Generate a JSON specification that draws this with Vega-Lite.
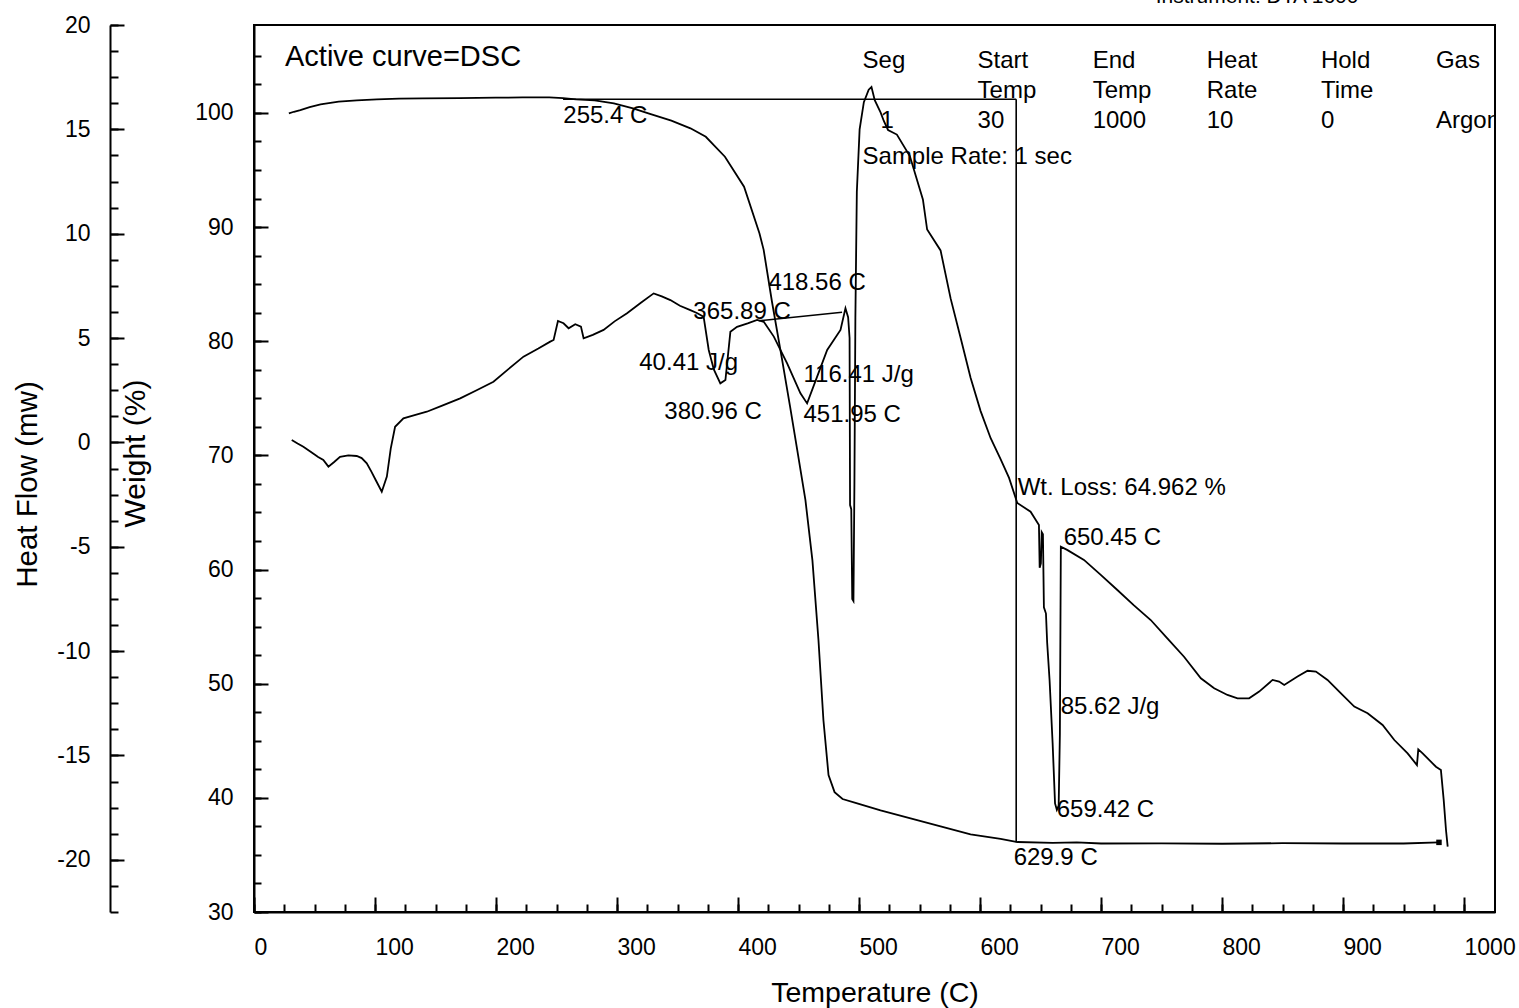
{
  "$schema": "https://vega.github.io/schema/vega-lite/v6.json",
  "width": 1241,
  "height": 887,
  "autosize": {"type": "none"},
  "padding": {"left": 254, "top": 25, "right": 24, "bottom": 96},
  "background": "white",
  "config": {
    "font": "Liberation Sans",
    "view": {"stroke": "black", "strokeWidth": 2},
    "axis": {
      "grid": false,
      "labelFont": "Liberation Sans",
      "titleFont": "Liberation Sans",
      "labelColor": "black",
      "titleColor": "black",
      "tickColor": "black",
      "domainColor": "black",
      "domainWidth": 2,
      "tickWidth": 2,
      "titleFontWeight": "normal",
      "labelFlush": false,
      "labelOverlap": false,
      "labelBound": false
    }
  },
  "resolve": {"scale": {"y": "independent"}, "axis": {"x": "independent", "y": "independent"}},
  "datasets": {
    "tga": [
      {"T": 28.8, "w": 99.95}, {"T": 33, "w": 100.1}, {"T": 38.3, "w": 100.25}, {"T": 46, "w": 100.5},
      {"T": 55, "w": 100.75}, {"T": 70, "w": 100.98}, {"T": 85, "w": 101.1}, {"T": 101.6, "w": 101.19},
      {"T": 120, "w": 101.25}, {"T": 139.6, "w": 101.28}, {"T": 170, "w": 101.3}, {"T": 199.8, "w": 101.33},
      {"T": 222, "w": 101.36}, {"T": 244, "w": 101.36}, {"T": 255.4, "w": 101.3}, {"T": 266.2, "w": 101.19},
      {"T": 281.5, "w": 101.1}, {"T": 297.4, "w": 100.83}, {"T": 313.2, "w": 100.4}, {"T": 325.9, "w": 99.96},
      {"T": 344.9, "w": 99.32}, {"T": 360.7, "w": 98.65}, {"T": 373.4, "w": 97.91}, {"T": 389.2, "w": 96.16},
      {"T": 405, "w": 93.54}, {"T": 417.7, "w": 89.45}, {"T": 421.2, "w": 88.0}, {"T": 428, "w": 83.5},
      {"T": 436.5, "w": 78.35}, {"T": 443, "w": 74.3}, {"T": 448.9, "w": 70.5}, {"T": 455.7, "w": 66.1},
      {"T": 461.5, "w": 60.8}, {"T": 466.5, "w": 53.8}, {"T": 470.6, "w": 46.8}, {"T": 474.8, "w": 42.0},
      {"T": 479.8, "w": 40.5}, {"T": 486.4, "w": 39.9}, {"T": 497.1, "w": 39.55}, {"T": 517.8, "w": 38.9},
      {"T": 542.6, "w": 38.2}, {"T": 567.4, "w": 37.5}, {"T": 592.2, "w": 36.8}, {"T": 617, "w": 36.4},
      {"T": 631, "w": 36.13}, {"T": 660, "w": 36.05}, {"T": 680, "w": 36.1}, {"T": 700, "w": 36.0},
      {"T": 750, "w": 36.02}, {"T": 800, "w": 35.98}, {"T": 850, "w": 36.03}, {"T": 900, "w": 36.0},
      {"T": 950, "w": 36.0}, {"T": 979.3, "w": 36.1}
    ],
    "dsc": [
      {"T": 31.2, "hf": 0.12}, {"T": 36, "hf": -0.05}, {"T": 40.8, "hf": -0.21}, {"T": 48, "hf": -0.5},
      {"T": 53, "hf": -0.7}, {"T": 57.3, "hf": -0.84}, {"T": 61.5, "hf": -1.16}, {"T": 66, "hf": -0.95},
      {"T": 71.1, "hf": -0.69}, {"T": 78, "hf": -0.62}, {"T": 84.9, "hf": -0.65}, {"T": 89, "hf": -0.75},
      {"T": 93.2, "hf": -1.0}, {"T": 97, "hf": -1.4}, {"T": 101, "hf": -1.85}, {"T": 105.6, "hf": -2.36},
      {"T": 109.8, "hf": -1.64}, {"T": 113, "hf": -0.3}, {"T": 116.6, "hf": 0.75}, {"T": 123.5, "hf": 1.15},
      {"T": 132, "hf": 1.3}, {"T": 142.8, "hf": 1.47}, {"T": 155, "hf": 1.75}, {"T": 170.4, "hf": 2.11},
      {"T": 184, "hf": 2.5}, {"T": 197.9, "hf": 2.91}, {"T": 210, "hf": 3.5}, {"T": 222.7, "hf": 4.11},
      {"T": 235, "hf": 4.5}, {"T": 244.8, "hf": 4.83}, {"T": 247.6, "hf": 4.91}, {"T": 251.2, "hf": 5.82},
      {"T": 255.8, "hf": 5.71}, {"T": 260, "hf": 5.47}, {"T": 265.5, "hf": 5.66}, {"T": 270.2, "hf": 5.55},
      {"T": 272.4, "hf": 4.99}, {"T": 280, "hf": 5.15}, {"T": 288.9, "hf": 5.39}, {"T": 298, "hf": 5.8},
      {"T": 308.3, "hf": 6.19}, {"T": 320, "hf": 6.7}, {"T": 330.3, "hf": 7.14}, {"T": 337, "hf": 7.0},
      {"T": 344.1, "hf": 6.82}, {"T": 352, "hf": 6.55}, {"T": 360.6, "hf": 6.34}, {"T": 366, "hf": 6.2},
      {"T": 371.6, "hf": 6.02}, {"T": 375.8, "hf": 4.43}, {"T": 380, "hf": 3.5}, {"T": 385.4, "hf": 2.83},
      {"T": 389.6, "hf": 2.99}, {"T": 393.7, "hf": 5.3}, {"T": 399.2, "hf": 5.54}, {"T": 408, "hf": 5.7},
      {"T": 415.8, "hf": 5.87}, {"T": 421.3, "hf": 5.78}, {"T": 429.6, "hf": 5.07}, {"T": 440.6, "hf": 3.79},
      {"T": 451.6, "hf": 2.35}, {"T": 457.1, "hf": 1.87}, {"T": 465.4, "hf": 3.15}, {"T": 473.7, "hf": 4.43},
      {"T": 484.7, "hf": 5.39}, {"T": 488.8, "hf": 6.43}, {"T": 491.0, "hf": 6.0}, {"T": 492.2, "hf": 5.0},
      {"T": 492.6, "hf": -3.0}, {"T": 493.6, "hf": -3.2}, {"T": 494.4, "hf": -7.5}, {"T": 495.4, "hf": -7.6},
      {"T": 496.2, "hf": -2.0}, {"T": 497.0, "hf": 6.0}, {"T": 498.2, "hf": 12.0}, {"T": 500.5, "hf": 15.0},
      {"T": 504, "hf": 16.3}, {"T": 508, "hf": 16.9}, {"T": 510.3, "hf": 17.03}, {"T": 513, "hf": 16.4},
      {"T": 517.9, "hf": 15.8}, {"T": 520.5, "hf": 15.4}, {"T": 524, "hf": 14.97}, {"T": 531.3, "hf": 14.75},
      {"T": 542, "hf": 13.72}, {"T": 552.8, "hf": 11.64}, {"T": 556.3, "hf": 10.2}, {"T": 567.4, "hf": 9.2},
      {"T": 575.7, "hf": 6.9}, {"T": 584, "hf": 5.0}, {"T": 592.2, "hf": 3.1}, {"T": 600.5, "hf": 1.5},
      {"T": 608.8, "hf": 0.2}, {"T": 617, "hf": -0.8}, {"T": 624, "hf": -1.7}, {"T": 630.8, "hf": -2.9},
      {"T": 641.8, "hf": -3.32}, {"T": 648.7, "hf": -3.96}, {"T": 649.3, "hf": -6.0}, {"T": 650.3, "hf": -5.8},
      {"T": 651.0, "hf": -4.3}, {"T": 652.0, "hf": -4.4}, {"T": 652.8, "hf": -7.9}, {"T": 654.5, "hf": -8.2},
      {"T": 655.5, "hf": -9.6}, {"T": 657.5, "hf": -11.4}, {"T": 660.0, "hf": -14.4}, {"T": 662.0, "hf": -17.3},
      {"T": 663.5, "hf": -17.6}, {"T": 665.0, "hf": -17.4}, {"T": 666.0, "hf": -14.0}, {"T": 666.8, "hf": -5.0},
      {"T": 672, "hf": -5.15}, {"T": 685.9, "hf": -5.63}, {"T": 699.8, "hf": -6.35}, {"T": 713.5, "hf": -7.07},
      {"T": 727, "hf": -7.8}, {"T": 741.1, "hf": -8.51}, {"T": 755, "hf": -9.4}, {"T": 768.6, "hf": -10.27},
      {"T": 782.5, "hf": -11.3}, {"T": 793.5, "hf": -11.78}, {"T": 804.5, "hf": -12.1}, {"T": 812.8, "hf": -12.26},
      {"T": 822.4, "hf": -12.26}, {"T": 830.7, "hf": -11.94}, {"T": 841.8, "hf": -11.38}, {"T": 847.2, "hf": -11.46},
      {"T": 851.4, "hf": -11.62}, {"T": 862.4, "hf": -11.22}, {"T": 870.7, "hf": -10.94}, {"T": 877.6, "hf": -10.98},
      {"T": 887.2, "hf": -11.38}, {"T": 898.3, "hf": -12.02}, {"T": 909.3, "hf": -12.66}, {"T": 920.3, "hf": -12.98},
      {"T": 932.7, "hf": -13.54}, {"T": 942.4, "hf": -14.26}, {"T": 953.4, "hf": -14.9}, {"T": 961.1, "hf": -15.46},
      {"T": 962.2, "hf": -14.71}, {"T": 965.8, "hf": -14.9}, {"T": 972.6, "hf": -15.3}, {"T": 976.8, "hf": -15.54},
      {"T": 980.9, "hf": -15.7}, {"T": 983.2, "hf": -17.13}, {"T": 985.1, "hf": -18.57}, {"T": 986.5, "hf": -19.37}
    ],
    "boxlines": [
      {"T1": 255.4, "T2": 629.9, "w1": 101.2, "w2": 101.2},
      {"T1": 629.9, "T2": 629.9, "w1": 101.2, "w2": 36.1}
    ],
    "baselines": [
      {"T1": 417.1, "T2": 486.0, "h1": 5.83, "h2": 6.24}
    ],
    "annot": [
      {"label": "255.4 C", "T": 255.6, "w": 99.7},
      {"label": "418.56 C", "T": 425.1, "w": 85.1},
      {"label": "365.89 C", "T": 363.1, "w": 82.58},
      {"label": "40.41 J/g", "T": 318.4, "w": 78.09},
      {"label": "380.96 C", "T": 339.1, "w": 73.82},
      {"label": "116.41 J/g", "T": 454.1, "w": 77.04},
      {"label": "451.95 C", "T": 454.1, "w": 73.54},
      {"label": "Wt. Loss: 64.962 %", "T": 631.1, "w": 67.14},
      {"label": "650.45 C", "T": 669.1, "w": 62.76},
      {"label": "85.62 J/g", "T": 666.7, "w": 47.98},
      {"label": "659.42 C", "T": 663.4, "w": 38.93},
      {"label": "629.9 C", "T": 627.8, "w": 34.73}
    ],
    "table": [
      {"label": "Seg", "T": 502.9, "w": 104.55},
      {"label": "Start", "T": 598.0, "w": 104.55},
      {"label": "Temp", "T": 598.0, "w": 101.96},
      {"label": "End", "T": 693.1, "w": 104.55},
      {"label": "Temp", "T": 693.1, "w": 101.96},
      {"label": "Heat", "T": 787.4, "w": 104.55},
      {"label": "Rate", "T": 787.4, "w": 101.96},
      {"label": "Hold", "T": 881.7, "w": 104.55},
      {"label": "Time", "T": 881.7, "w": 101.96},
      {"label": "Gas", "T": 976.8, "w": 104.55},
      {"label": "1", "T": 517.8, "w": 99.3},
      {"label": "30", "T": 598.0, "w": 99.3},
      {"label": "1000", "T": 693.1, "w": 99.3},
      {"label": "10", "T": 787.4, "w": 99.3},
      {"label": "0", "T": 881.7, "w": 99.3},
      {"label": "Argon", "T": 976.8, "w": 99.3},
      {"label": "Sample Rate: 1 sec", "T": 502.9, "w": 96.1}
    ],
    "active": [
      {"label": "Active curve=DSC", "T": 25.6, "w": 104.92}
    ],
    "instr": [
      {"label": "Instrument: DTA 1600", "T": 745.2, "w": 110.15}
    ]
  },
  "layer": [
    {
      "data": {"name": "tga"},
      "mark": {"type": "line", "color": "black", "strokeWidth": 1.8},
      "encoding": {
        "x": {
          "field": "T", "type": "quantitative",
          "scale": {"domain": [0, 1025.6], "nice": false, "zero": false},
          "axis": {
            "orient": "bottom",
            "values": [0, 100, 200, 300, 400, 500, 600, 700, 800, 900, 1000],
            "labelExpr": "'' + datum.value",
            "tickSize": -15,
            "labelAlign": "left",
            "labelPadding": 39,
            "labelFontSize": 23,
            "title": "Temperature (C)",
            "titleFontSize": 28.5,
            "titleY": 80,
            "titleBaseline": "middle"
          }
        },
        "y": {
          "field": "w", "type": "quantitative",
          "scale": {"domain": [30, 107.7], "nice": false, "zero": false},
          "axis": {
            "orient": "left",
            "values": [30, 40, 50, 60, 70, 80, 90, 100],
            "tickSize": -14,
            "labelPadding": 35,
            "labelFontSize": 23,
            "title": "Weight (%)",
            "titleFontSize": 30,
            "titleX": -119,
            "titleY": 428,
            "titleBaseline": "middle"
          }
        }
      }
    },
    {
      "data": {"name": "dsc"},
      "mark": {"type": "line", "color": "black", "strokeWidth": 1.8},
      "encoding": {
        "x": {"field": "T", "type": "quantitative", "scale": {"domain": [0, 1025.6], "nice": false, "zero": false}, "axis": null},
        "y": {
          "field": "hf", "type": "quantitative",
          "scale": {"domain": [-22.5, 20], "nice": false, "zero": false},
          "axis": {
            "orient": "left",
            "offset": 144,
            "values": [-20, -15, -10, -5, 0, 5, 10, 15, 20],
            "labelExpr": "'' + datum.value",
            "tickSize": -14,
            "labelPadding": 34,
            "labelFontSize": 23,
            "title": "Heat Flow (mw)",
            "titleFontSize": 29.5,
            "titleX": -82.5,
            "titleY": 459,
            "titleBaseline": "middle"
          }
        }
      }
    },
    {
      "data": {"name": "boxlines"},
      "mark": {"type": "rule", "color": "black", "strokeWidth": 1.6},
      "encoding": {
        "x": {
          "field": "T1", "type": "quantitative",
          "scale": {"domain": [0, 1025.6], "nice": false, "zero": false},
          "axis": {
            "orient": "bottom",
            "values": [0, 25, 50, 75, 100, 125, 150, 175, 200, 225, 250, 275, 300, 325, 350, 375, 400, 425, 450, 475, 500, 525, 550, 575, 600, 625, 650, 675, 700, 725, 750, 775, 800, 825, 850, 875, 900, 925, 950, 975, 1000],
            "tickSize": -8,
            "labels": false,
            "domain": false,
            "title": null
          }
        },
        "x2": {"field": "T2"},
        "y": {
          "field": "w1", "type": "quantitative",
          "scale": {"domain": [30, 107.7], "nice": false, "zero": false},
          "axis": {
            "orient": "left",
            "values": [30, 32.5, 35, 37.5, 40, 42.5, 45, 47.5, 50, 52.5, 55, 57.5, 60, 62.5, 65, 67.5, 70, 72.5, 75, 77.5, 80, 82.5, 85, 87.5, 90, 92.5, 95, 97.5, 100, 102.5, 105],
            "tickSize": -7,
            "labels": false,
            "domain": false,
            "title": null
          }
        },
        "y2": {"field": "w2"}
      }
    },
    {
      "data": {"name": "baselines"},
      "mark": {"type": "rule", "color": "black", "strokeWidth": 1.5},
      "encoding": {
        "x": {"field": "T1", "type": "quantitative", "scale": {"domain": [0, 1025.6], "nice": false, "zero": false}, "axis": null},
        "x2": {"field": "T2"},
        "y": {
          "field": "h1", "type": "quantitative",
          "scale": {"domain": [-22.5, 20], "nice": false, "zero": false},
          "axis": {
            "orient": "left",
            "offset": 144,
            "values": [-22.5, -21.25, -20, -18.75, -17.5, -16.25, -15, -13.75, -12.5, -11.25, -10, -8.75, -7.5, -6.25, -5, -3.75, -2.5, -1.25, 0, 1.25, 2.5, 3.75, 5, 6.25, 7.5, 8.75, 10, 11.25, 12.5, 13.75, 15, 16.25, 17.5, 18.75, 20],
            "tickSize": -8,
            "labels": false,
            "domain": false,
            "title": null
          }
        },
        "y2": {"field": "h2"}
      }
    },
    {
      "data": {"name": "annot"},
      "mark": {"type": "text", "align": "left", "baseline": "middle", "fontSize": 24, "font": "Liberation Sans", "color": "black"},
      "encoding": {
        "x": {"field": "T", "type": "quantitative", "scale": {"domain": [0, 1025.6], "nice": false, "zero": false}, "axis": null},
        "y": {"field": "w", "type": "quantitative", "scale": {"domain": [30, 107.7], "nice": false, "zero": false}, "axis": null},
        "text": {"field": "label"}
      }
    },
    {
      "data": {"name": "table"},
      "mark": {"type": "text", "align": "left", "baseline": "middle", "fontSize": 24, "font": "Liberation Sans", "color": "black", "clip": true},
      "encoding": {
        "x": {"field": "T", "type": "quantitative", "scale": {"domain": [0, 1025.6], "nice": false, "zero": false}, "axis": null},
        "y": {"field": "w", "type": "quantitative", "scale": {"domain": [30, 107.7], "nice": false, "zero": false}, "axis": null},
        "text": {"field": "label"}
      }
    },
    {
      "data": {"name": "active"},
      "mark": {"type": "text", "align": "left", "baseline": "middle", "fontSize": 29, "font": "Liberation Sans", "color": "black"},
      "encoding": {
        "x": {"field": "T", "type": "quantitative", "scale": {"domain": [0, 1025.6], "nice": false, "zero": false}, "axis": null},
        "y": {"field": "w", "type": "quantitative", "scale": {"domain": [30, 107.7], "nice": false, "zero": false}, "axis": null},
        "text": {"field": "label"}
      }
    },
    {
      "data": {"name": "instr"},
      "mark": {"type": "text", "align": "left", "baseline": "middle", "fontSize": 21, "font": "Liberation Sans", "color": "black"},
      "encoding": {
        "x": {"field": "T", "type": "quantitative", "scale": {"domain": [0, 1025.6], "nice": false, "zero": false}, "axis": null},
        "y": {"field": "w", "type": "quantitative", "scale": {"domain": [30, 107.7], "nice": false, "zero": false}, "axis": null},
        "text": {"field": "label"}
      }
    },
    {
      "data": {"name": "tga"},
      "transform": [{"filter": "datum.T > 979"}],
      "mark": {"type": "point", "shape": "square", "filled": true, "color": "black", "size": 30, "opacity": 1},
      "encoding": {
        "x": {"field": "T", "type": "quantitative", "scale": {"domain": [0, 1025.6], "nice": false, "zero": false}, "axis": null},
        "y": {"field": "w", "type": "quantitative", "scale": {"domain": [30, 107.7], "nice": false, "zero": false}, "axis": null}
      }
    }
  ]
}
